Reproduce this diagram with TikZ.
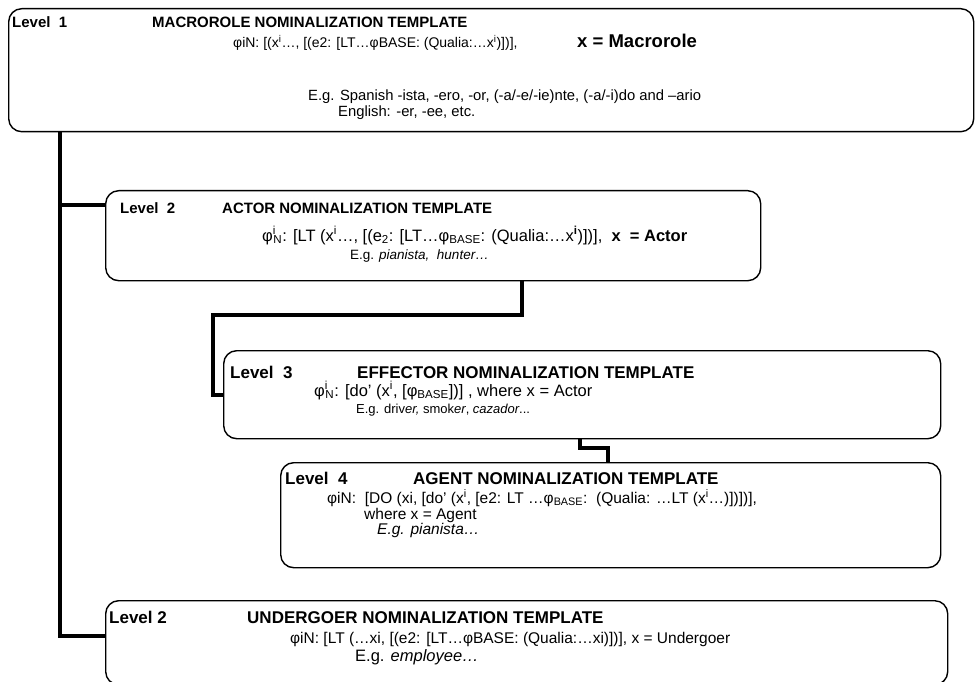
\documentclass[tikz,border=0pt]{standalone}
\usepackage{fontspec}
\setmainfont{Liberation Sans}
\begin{document}
\begin{tikzpicture}[x=1pt,y=-1pt]
\tikzset{
	boite/.style={draw, line width=1.4pt, rounded corners=13pt, anchor=north west, inner sep=0pt},
	lien/.style={line width=3.6pt},
	texte/.style={anchor=base west, inner sep=0pt, font=\fontsize{15.5}{17}\selectfont},
	petit/.style={texte, font=\fontsize{13.5}{15}\selectfont},
	titre/.style={texte, font=\fontsize{17}{19}\selectfont\bfseries},
	soustitre/.style={texte, font=\fontsize{15}{17}\selectfont\bfseries}
}
\useasboundingbox (0,0) rectangle (978,682);

 % les boîtes
  \node[boite, minimum width=965pt, minimum height=123pt] (niv1) at (8,8) {};
  \node[boite, minimum width=655pt, minimum height=90pt] (niv2) at (105,190) {};
  \node[boite, minimum width=717pt, minimum height=88pt] (niv3) at (223,350) {};
  \node[boite, minimum width=660pt, minimum height=105pt] (niv4) at (280,462) {};
  \node[boite, minimum width=842pt, minimum height=84pt] (niv5) at (105,600) {};

 % les liens
  \coordinate (c2) at (60,205);
  \coordinate (c5) at (60,636);
  \draw[lien] (niv1.south -| c5) -- (c5) -- (c5 -| niv5.west);
  \draw[lien] (c2) -- (c2 -| niv2.west);
  \coordinate (d1) at (522,315);
  \coordinate (d2) at (213,395);
  \draw[lien] (niv2.south -| d1) -- (d1) -- (d1 -| d2) -- (d2) -- (d2 -| niv3.west);
  \coordinate (e1) at (580,448);
  \coordinate (e2) at (608,448);
  \draw[lien] (niv3.south -| e1) -- (e1) -- (e2) -- (e2 |- niv4.north);

% niveau 1
  \node[soustitre] (n1) at (12,28) {Level\ \ 1};
  \node[soustitre] (t1) at (152,28) {MACROROLE NOMINALIZATION TEMPLATE};
  \node[texte, font=\fontsize{14}{16}\selectfont] (f1) at (233,48) {φiN: [(x\textsuperscript{i}…, [(e2: [LT…φBASE: (Qualia:…x\textsuperscript{i})])],};
  \node[titre, font=\fontsize{18.5}{20}\selectfont\bfseries] (m1) at (577,48) {x = Macrorole};
  \node[petit, font=\fontsize{14.8}{16}\selectfont] (g1) at (308,101) {E.g. Spanish -ista, -ero, -or, (-a/-e/-ie)nte, (-a/-i)do and –ario};
  \node[petit, font=\fontsize{14.8}{16}\selectfont] (h1) at (338,117) {English: -er, -ee, etc.};

% niveau 2 (actor)
  \node[soustitre] (n2) at (120,214) {Level\ \ 2};
  \node[soustitre] (t2) at (222,214) {ACTOR NOMINALIZATION TEMPLATE};
  \node[texte, font=\fontsize{16.5}{18}\selectfont] (f2) at (262,241) {φ\textsuperscript{i}\kern-0.15em\textsubscript{N}: [LT (x\textsuperscript{i}…, [(e\textsubscript{2}: [LT…φ\textsubscript{BASE}: (Qualia:…x\textsuperscript{\textbf{i}})])],\ \ \textbf{x\ \ = Actor}};
  \node[petit] (g2) at (350,259) {E.g. \textit{pianista,\ \ hunter…}};

% niveau 3
  \node[titre] (n3) at (230,378) {Level\ \ 3};
  \node[titre] (t3) at (357,378) {EFFECTOR NOMINALIZATION TEMPLATE};
  \node[texte, font=\fontsize{16.5}{18}\selectfont] (f3) at (314,396) {φ\textsuperscript{i}\kern-0.15em\textsubscript{N}: [do’ (x\textsuperscript{i}, [φ\textsubscript{BASE}])] , where x = Actor};
  \node[petit, font=\fontsize{13}{15}\selectfont] (g3) at (356,413) {E.g. driv\textit{er,} smok\textit{er}, \textit{cazador}...};

% niveau 4
  \node[titre] (n4) at (285,484) {Level\ \ 4};
  \node[titre] (t4) at (413,484) {AGENT NOMINALIZATION TEMPLATE};
  \node[texte] (f4) at (327,503) {φiN:\ \ [DO (xi, [do’ (x\textsuperscript{i}, [e2: LT …φ\textsubscript{BASE}:\ \ (Qualia: …LT (x\textsuperscript{i}…)])])],};
  \node[texte] (w4) at (364,519) {where x = Agent};
  \node[texte] (g4) at (377,534) {\textit{E.g. pianista…}};

% niveau 2 (undergoer)
  \node[titre] (n5) at (109,623) {Level 2};
  \node[titre] (t5) at (247,623) {UNDERGOER NOMINALIZATION TEMPLATE};
  \node[texte] (f5) at (290,643) {φiN: [LT (…xi, [(e2: [LT…φBASE: (Qualia:…xi)])], x = Undergoer};
  \node[texte, font=\fontsize{16.5}{18}\selectfont] (g5) at (355,661) {E.g. \textit{employee…}};
\end{tikzpicture}
\end{document}
